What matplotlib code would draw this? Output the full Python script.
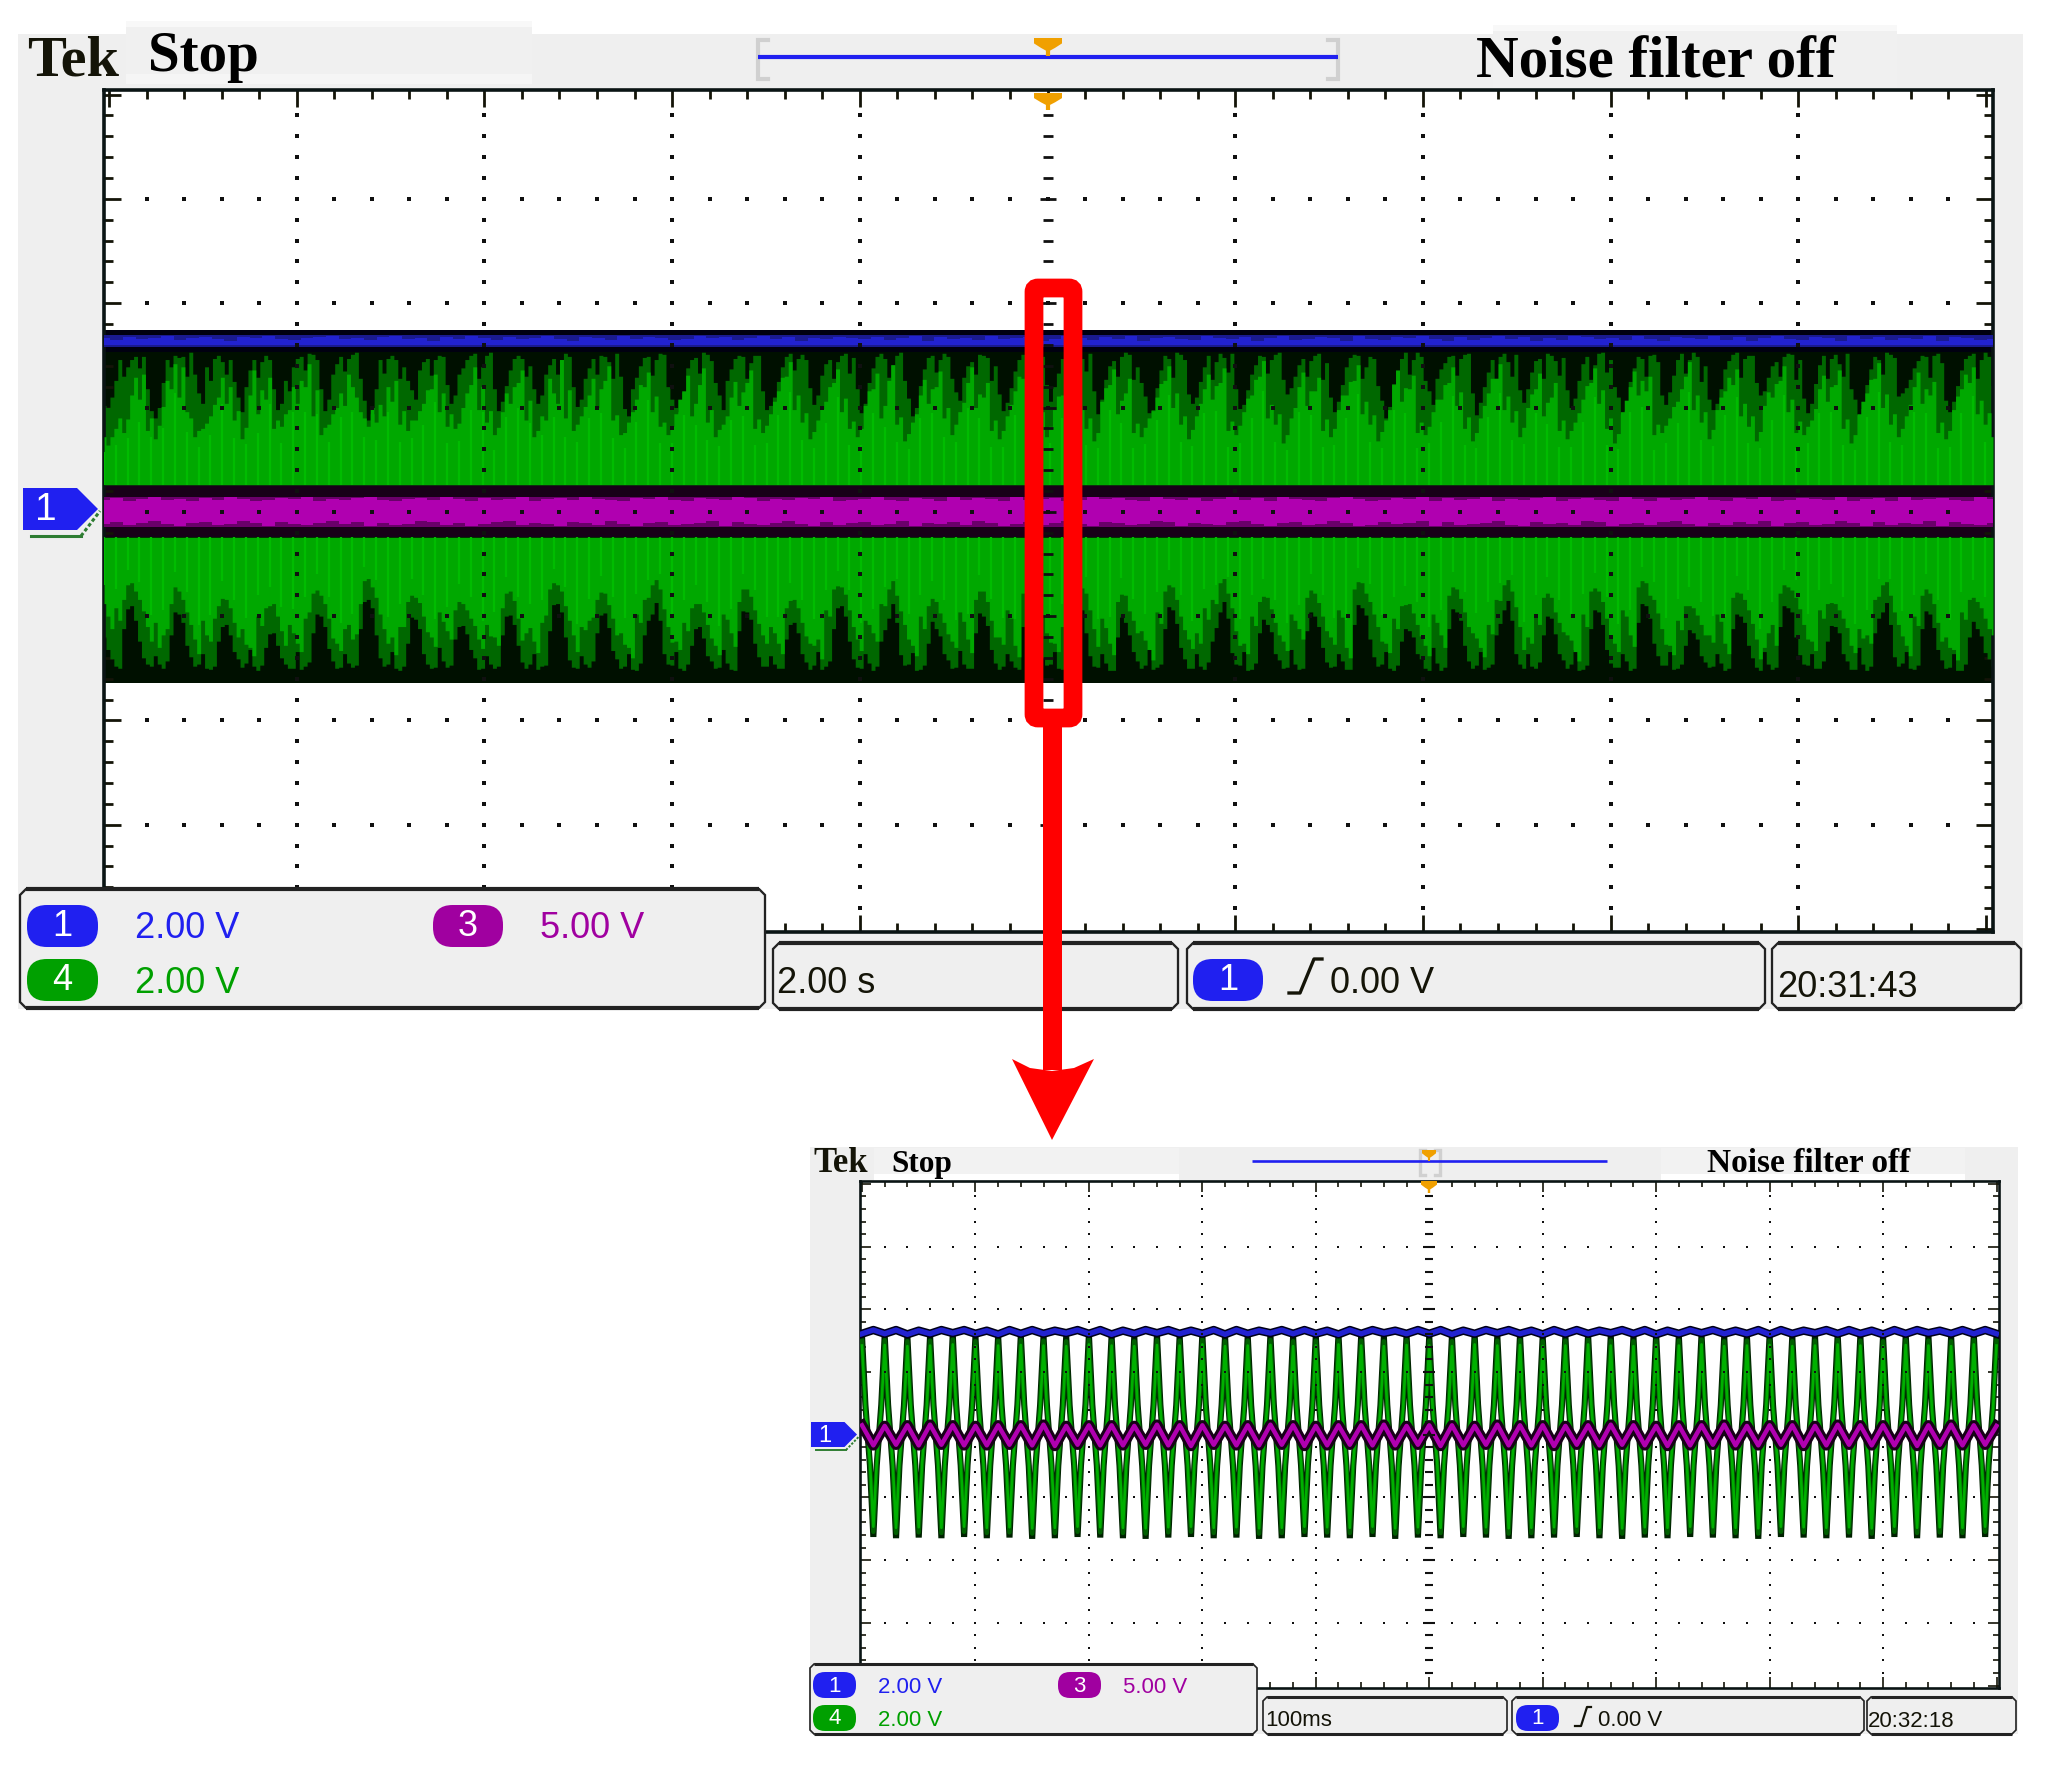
import numpy as np
import matplotlib
matplotlib.use('Agg')
import matplotlib.pyplot as plt
from matplotlib.patches import Polygon, Rectangle, FancyBboxPatch

# --- values ---
# upper scope (2.00 s/div): green envelope, hundredths of a division
# *_a and *_b are alternate display columns
top_dark_a = [102,110,146,139,149,149,97,100,146,150,149,153,114,139,147,144,146,110,120,146,144,146,98,126,139,149,152,146,97,132,
149,147,153,107,94,146,147,146,139,117,136,147,146,149,104,132,146,152,139,153,97,121,147,147,140,104,132,147,146,149,
101,128,147,150,144,152,99,118,140,149,146,151,108,96,138,148,153,145,112,126,147,149,143,150,98,110,139,152,147,146,
103,131,146,144,152,148,95,124,149,147,141,153,109,100,137,150,146,149,115,129,144,151,148,140,97,119,146,153,145,149,
106,133,150,143,147,152,94,127,145,149,151,139,111,98,136,147,153,146,104,125,150,144,148,152,99,117,141,149,146,153,
113,130,147,145,152,143,96,122,148,150,139,147,107,101,135,153,146,149,116,128,143,150,147,152,93,120,146,149,144,151,
105,134,147,152,145,148,100,126,149,141,153,146,110,97,138,147,150,144,103,131,152,146,149,140,98,118,145,153,147,150,
112,129,144,149,151,146,95,123,150,147,142,152,108,99,137,146,153,148,114,127,145,149,150,143,96,121,147,152,146,149]
top_dark_b = [100,126,130,146,138,118,90,124,139,148,130,132,104,126,150,132,125,96,136,129,150,118,104,116,147,136,151,118,108,142,
135,151,128,88,118,133,150,128,126,108,144,131,150,122,112,138,150,128,150,118,106,136,150,130,118,112,141,132,152,120,
108,138,132,149,128,130,92,129,148,131,152,120,100,115,146,133,151,124,98,137,150,128,150,116,102,125,149,136,151,119,
112,142,128,150,133,118,104,138,152,129,150,126,92,121,148,134,152,128,107,140,132,150,126,113,105,135,151,130,152,122,
120,147,131,152,135,116,108,140,130,153,127,124,95,119,150,129,151,113,110,139,127,152,134,118,103,132,150,133,151,127,
119,141,130,150,127,110,106,139,151,128,149,121,90,123,147,132,153,126,103,137,149,131,151,114,105,134,128,152,130,117,
118,145,128,150,131,117,109,142,127,152,134,120,94,125,149,130,151,112,115,146,133,153,125,108,104,137,151,129,150,124,
116,140,130,152,127,109,104,141,128,151,130,118,93,122,149,132,151,111,119,138,150,129,152,107,106,136,150,128,153,121]
top_bright_a = [72,72,90,89,129,132,90,83,126,142,139,90,78,85,103,129,120,97,81,136,117,129,88,94,120,126,142,117,81,94,
114,132,110,90,100,103,120,126,97,88,97,117,132,114,94,85,114,139,120,97,81,114,120,136,107,78,88,114,146,117,
84,101,128,118,140,93,76,96,122,134,111,86,82,108,131,104,138,98,79,92,125,115,136,89,83,106,129,144,112,95,
77,99,120,137,109,87,80,116,133,102,141,91,75,94,127,118,135,100,84,105,139,113,124,88,78,103,130,143,110,96,
82,111,126,135,98,90,76,119,137,107,128,85,81,97,123,140,114,92,79,104,132,121,138,87,83,109,127,145,103,94,
74,100,134,116,129,89,80,112,125,141,106,93,77,98,136,119,131,86,82,108,122,139,115,91,76,102,128,142,111,97,
81,113,133,105,124,88,78,95,121,138,117,90,75,107,135,126,130,84,83,101,118,144,112,96,79,110,129,137,104,92,
77,115,123,140,108,87,82,99,131,120,136,89,74,106,127,143,113,94,80,103,134,118,125,86,78,111,132,139,107,95]
top_bright_b = [64,80,76,112,108,78,70,101,118,110,96,72,80,92,110,104,88,70,112,94,108,80,82,98,104,120,92,74,84,100,
102,120,96,82,86,92,106,84,78,88,104,118,96,82,80,100,122,98,86,74,96,104,124,88,72,92,128,104,90,78,
92,112,100,126,88,74,86,108,120,96,82,74,94,116,92,122,86,72,84,110,102,124,80,76,94,116,130,98,86,70,
88,106,124,96,80,72,102,118,90,126,84,68,86,112,104,120,90,74,96,124,100,110,78,70,92,116,128,98,88,72,
98,112,120,88,80,68,106,122,94,114,76,72,90,110,126,100,84,70,92,118,108,124,78,74,96,112,130,90,84,66,
90,120,102,116,78,72,98,112,126,94,84,68,88,122,106,118,76,74,96,108,124,102,80,68,90,114,128,98,86,72,
100,118,92,110,78,70,86,108,124,104,80,66,96,120,112,116,74,76,90,106,130,98,86,70,98,116,122,92,82,68,
102,110,126,96,76,74,88,118,106,122,80,66,94,114,128,100,84,72,92,120,104,112,76,70,98,118,124,94,84,72]
low_dark_a = [120,141,150,93,104,140,148,146,143,96,106,139,146,150,148,110,118,141,145,148,147,117,128,146,150,151,144,98,110,143,
149,145,147,86,92,140,146,150,148,101,112,146,149,143,147,110,117,140,150,146,148,100,108,144,146,151,147,89,96,142,
150,146,143,99,111,141,148,151,145,104,87,136,147,150,146,112,121,143,149,145,152,95,103,139,148,146,150,108,116,144,
147,151,143,92,100,141,150,145,148,113,88,137,146,152,147,105,119,142,149,146,150,97,109,145,148,143,151,90,102,140,
146,150,147,114,94,138,149,145,152,101,118,143,147,151,146,91,107,141,150,148,144,111,86,135,147,152,145,103,115,142,
149,146,150,96,110,144,148,143,151,89,99,139,146,150,147,112,120,141,152,145,149,93,104,143,147,151,146,107,85,136,
150,148,144,100,117,142,146,152,147,94,108,145,149,143,150,88,102,138,147,151,146,113,122,144,148,145,150,98,106,140,
152,146,149,90,96,137,147,150,143,109,116,143,151,146,148,102,87,139,145,150,147,95,111,142,149,152,146,105,119,141]
low_dark_b = [132,148,112,90,124,146,138,150,118,98,128,148,136,151,124,108,134,149,132,152,130,116,140,150,134,148,116,100,131,150,
136,149,112,84,118,148,134,152,126,103,136,150,130,149,122,109,132,151,138,150,118,99,128,150,136,148,114,88,120,149,
138,149,116,97,133,150,136,152,118,98,104,146,134,152,128,110,138,150,132,151,114,96,126,148,138,150,122,106,136,151,
134,148,112,90,124,149,136,152,124,102,106,147,135,151,126,112,136,150,133,150,116,100,132,151,136,149,110,92,126,147,
134,151,128,100,116,148,136,152,120,106,134,150,132,149,112,94,130,150,136,151,124,96,102,146,134,151,116,108,136,150,
132,151,114,100,130,149,136,151,108,92,122,148,134,152,124,114,136,150,130,152,112,96,128,150,134,149,118,94,104,146,
136,150,118,102,136,150,132,151,112,96,132,149,136,152,106,90,126,147,134,150,128,116,138,149,136,152,112,100,128,149,
134,151,110,92,120,146,136,150,124,110,136,151,130,152,116,96,108,148,134,151,112,98,132,150,136,152,120,112,135,148]
low_bright_a = [88,112,104,70,76,95,124,130,112,72,84,108,136,118,102,83,92,120,127,138,109,90,100,128,116,134,96,75,88,121,
133,108,117,66,72,98,126,137,110,80,87,115,129,105,122,86,94,109,131,119,128,78,85,123,111,135,99,68,76,104,
134,113,101,77,89,118,127,140,106,82,65,93,125,132,114,88,96,121,137,103,129,74,81,107,126,116,136,85,92,119,
128,141,100,71,79,110,133,108,124,90,66,95,122,138,112,83,97,117,130,105,135,76,86,120,127,102,139,69,80,99,
125,134,115,91,73,94,129,111,137,79,95,116,123,142,107,70,84,113,131,126,103,88,64,92,128,136,109,81,93,118,
133,104,122,75,87,114,127,101,140,67,78,98,124,135,112,89,97,119,138,106,130,72,83,110,121,139,117,85,65,91,
132,126,108,78,96,115,123,143,110,73,86,120,134,100,129,66,80,97,127,137,113,90,99,118,125,105,136,77,84,107,
141,116,128,70,75,93,122,133,102,87,94,111,135,121,126,81,67,96,119,138,109,74,88,124,130,142,103,82,92,112]
low_bright_b = [100,92,84,68,84,110,106,118,88,76,96,122,104,124,90,84,106,112,130,100,92,88,114,108,126,102,78,80,102,126,
112,122,88,64,82,112,120,110,86,82,100,120,96,114,94,88,102,122,108,120,92,76,102,116,124,106,74,70,90,118,
110,104,84,78,102,116,130,98,84,70,74,110,124,106,92,88,108,128,98,116,86,74,94,118,110,126,92,84,106,126,
122,94,74,72,94,122,104,116,88,74,80,108,128,100,90,86,106,124,96,122,84,76,104,120,94,128,78,70,86,116,
126,110,92,76,78,112,102,126,86,80,104,114,132,96,76,72,100,122,116,92,84,68,78,114,126,100,86,82,106,124,
98,112,82,78,100,120,94,130,74,68,86,110,126,102,90,88,108,128,98,118,80,74,96,116,130,108,84,70,76,110,
120,100,82,82,106,118,134,98,76,76,102,126,94,118,72,68,84,112,128,104,90,92,108,118,98,126,82,78,94,122,
130,108,78,72,82,108,124,94,88,88,102,128,112,118,84,70,80,108,128,100,80,78,106,120,132,96,84,86,102,118]
top_blue_edge = [169,167,170,168,169,171,167,169,170,168,166,170,169,171,168,167,169,170,171,168,169,167,170,171,168,169,166,170,168,171,
169,167,170,168,169,171,168,166,170,169,167,171,168,170,169,167,168,171,169,170,167,169,171,168,170,166,169,168,170,169,
168,170,167,169,171,166,170,168,169,167,171,168,169,170,166,168,171,169,167,170,168,171,166,169,170,168,167,171,169,168,
170,166,169,171,167,168,170,169,166,171,168,167,170,169,171,168,166,170,167,169,171,168,170,166,169,167,171,170,168,169,
167,171,168,166,170,169,168,171,167,170,166,169,171,168,167,170,169,166,171,168,170,167,169,168,171,166,170,169,167,168]
top_purple_hi = [11,13,10,12,14,11,12,10,13,11,14,12,10,11,13,12,14,10,12,11,13,14,11,10,12,13,11,14,12,10,
13,11,12,14,10,12,13,11,14,12,11,10,13,12,14,11,10,13,12,11,14,13,10,12,11,13,12,14,10,11,
12,14,11,10,13,12,10,14,11,13,12,10,14,11,12,13,10,11,14,12,13,11,10,14,12,11,13,10,12,14,
11,13,10,14,12,11,10,13,14,12,10,11,13,12,14,10,13,11,12,14,10,12,11,13,14,10,12,13,11,10,
14,12,10,13,11,12,14,11,10,13,12,14,10,11,13,12,11,14,10,12,13,10,14,11,12,13,11,10,14,12]
top_purple_lo = [-12,-10,-13,-11,-9,-12,-14,-11,-10,-13,-12,-9,-11,-14,-10,-12,-13,-11,-9,-12,-10,-14,-11,-13,-12,-9,-10,-13,-11,-14,
-12,-10,-9,-13,-11,-12,-14,-10,-11,-13,-9,-12,-14,-11,-10,-13,-12,-11,-9,-14,-10,-12,-13,-11,-9,-12,-14,-10,-13,-11,
-10,-13,-12,-9,-14,-11,-12,-10,-13,-9,-11,-14,-12,-10,-13,-11,-9,-12,-14,-10,-11,-13,-12,-9,-10,-14,-11,-12,-13,-10,
-9,-12,-14,-11,-10,-13,-12,-9,-11,-14,-13,-10,-12,-11,-9,-14,-10,-13,-12,-11,-9,-13,-14,-10,-12,-11,-13,-9,-10,-14,
-12,-11,-13,-10,-9,-12,-14,-11,-13,-10,-12,-9,-14,-11,-10,-13,-12,-9,-11,-14,-10,-13,-11,-12,-9,-14,-10,-12,-13,-11]

# lower scope (100 ms/div): one up peak / down peak per cycle, divisions
low_up = [1.58,1.59,1.57,1.58,1.60,1.57,1.58,1.59,1.58,1.57,1.60,1.58,1.57,1.59,1.58,1.60,1.57,1.58,1.59,1.57,1.58,1.60,1.58,1.57,1.59,
1.58,1.57,1.60,1.58,1.59,1.57,1.58,1.60,1.58,1.57,1.59,1.58,1.60,1.57,1.58,1.59,1.57,1.58,1.60,1.58,1.57,1.59,1.58,1.57,1.60,1.58]
low_down = [-1.63,-1.65,-1.64,-1.65,-1.63,-1.65,-1.64,-1.66,-1.65,-1.63,-1.64,-1.65,-1.66,-1.64,-1.63,-1.65,-1.64,-1.66,-1.65,-1.63,-1.64,-1.65,-1.63,-1.66,-1.64,
-1.65,-1.63,-1.64,-1.66,-1.65,-1.64,-1.63,-1.65,-1.66,-1.64,-1.65,-1.63,-1.64,-1.65,-1.66,-1.63,-1.64,-1.65,-1.64,-1.66,-1.63,-1.65,-1.64,-1.65,-1.63]
purple_up = [0.15,0.14,0.15,0.16,0.15,0.14,0.15,0.15,0.16,0.14,0.15,0.15,0.14,0.16,0.15,0.15,0.14,0.15,0.16,0.15,0.14,0.15,0.15,0.16,0.14,
0.15,0.15,0.14,0.16,0.15,0.15,0.14,0.15,0.16,0.15,0.14,0.15,0.15,0.16,0.14,0.15,0.15,0.14,0.16,0.15,0.15,0.14,0.15,0.16,0.15,0.14]
purple_down = [-0.17,-0.16,-0.17,-0.16,-0.17,-0.17,-0.16,-0.17,-0.18,-0.16,-0.17,-0.17,-0.16,-0.17,-0.18,-0.16,-0.17,-0.17,-0.16,-0.18,-0.17,-0.16,-0.17,-0.17,-0.16,
-0.18,-0.17,-0.16,-0.17,-0.17,-0.18,-0.16,-0.17,-0.16,-0.17,-0.18,-0.17,-0.16,-0.17,-0.17,-0.16,-0.18,-0.17,-0.16,-0.17,-0.17,-0.18,-0.16,-0.17,-0.16]
blue_line = [1.61,1.67,1.61,1.67,1.60,1.66,1.61,1.67,1.62,1.67,1.61,1.66,1.60,1.67,1.61,1.67,1.61,1.66,1.62,1.67,1.61,1.67,1.60,1.66,1.61,
1.67,1.62,1.67,1.61,1.66,1.61,1.67,1.60,1.67,1.61,1.66,1.62,1.67,1.61,1.67,1.61,1.66,1.60,1.67,1.61,1.67,1.62,1.66,1.61,1.67,
1.61,1.67,1.60,1.66,1.61,1.67,1.62,1.67,1.61,1.66,1.60,1.67,1.61,1.67,1.61,1.66,1.62,1.67,1.61,1.67,1.60,1.66,1.61,1.67,1.62,
1.67,1.61,1.66,1.61,1.67,1.60,1.67,1.61,1.66,1.62,1.67,1.61,1.67,1.61,1.66,1.60,1.67,1.61,1.67,1.62,1.66,1.61,1.67,1.61,1.67,1.61]
# the green trace keeps about this share of a peak where the spike widens out
knee_share = 0.3

ch1_label = '2.00 V'
ch3_label = '5.00 V'
ch4_label = '2.00 V'
trig_label = '0.00 V'

BLUE = '#2020F0'
PURPLE = '#A000A0'
GREEN = '#00A000'
PANEL = '#EFEFEF'
INK = '#141408'
SANS = 'Liberation Sans'
SERIF = 'Liberation Serif'

W, H = 2052, 1766
fig = plt.figure(figsize=(W / 100, H / 100), dpi=100, facecolor='white')


def px_axes(left, top, right, bottom, z):
    ax = fig.add_axes([left / W, 1 - bottom / H, (right - left) / W, (bottom - top) / H], zorder=z)
    return ax


def scope_axes(left, top, right, bottom, x0, xdiv, y0, ydiv, maj, mnr, tw, spine):
    ax = px_axes(left, top, right, bottom, 2)
    ax.set_xlim((left - x0) / xdiv, (right - x0) / xdiv)
    ax.set_ylim((y0 - bottom) / ydiv, (y0 - top) / ydiv)
    ax.set_xticks(np.arange(0, 11))
    ax.set_yticks(np.arange(-4, 5))
    ax.set_xticks(np.arange(0, 10.01, 0.2), minor=True)
    ax.set_yticks(np.arange(-4, 4.01, 0.2), minor=True)
    ax.tick_params(which='major', direction='in', top=True, bottom=True, left=True, right=True,
                   length=maj, width=tw, color=INK, labelbottom=False, labelleft=False)
    ax.tick_params(which='minor', direction='in', top=True, bottom=True, left=True, right=True,
                   length=mnr, width=tw, color=INK)
    for s in ax.spines.values():
        s.set_linewidth(spine)
        s.set_color('#0A1414')
    return ax


def draw_grid(ax, s, dash_major, dash_minor, mew):
    minor = np.round(np.arange(0, 10.01, 0.2), 1)
    minor_y = np.round(np.arange(-4, 4.01, 0.2), 1)
    for row in range(-3, 4):
        xs = minor[(minor > 0) & (minor < 10)]
        ax.scatter(xs, np.full(len(xs), row), marker='s', s=s, color='#101010', lw=0, zorder=8)
    for col in range(1, 10):
        if col == 5:
            continue
        ys = minor_y[(minor_y > -4) & (minor_y < 4)]
        ax.scatter(np.full(len(ys), col), ys, marker='s', s=s, color='#101010', lw=0, zorder=8)
    ys = minor_y[(minor_y > -4) & (minor_y < 4)]
    is_major = np.isclose(ys, np.round(ys))
    ax.plot(np.full(is_major.sum(), 5), ys[is_major], ls='none', marker='_', ms=dash_major, mew=mew, color='#101010', zorder=8)
    ax.plot(np.full((~is_major).sum(), 5), ys[~is_major], ls='none', marker='_', ms=dash_minor, mew=mew, color='#101010', zorder=8)


def text(x, y, s, color=INK, size=26, family=SANS, ha='left', weight='normal'):
    fg.text(x, y, s, color=color, fontsize=size, family=family, ha=ha, va='baseline',
            fontweight=weight, zorder=20)


def panel(x0, y0, x1, y1, c=6, lw=3.0):
    pts = [(x0 + c, y0), (x1 - c, y0), (x1, y0 + c), (x1, y1 - c), (x1 - c, y1), (x0 + c, y1), (x0, y1 - c), (x0, y0 + c)]
    fg.add_patch(Polygon(pts, closed=True, fc=PANEL, ec='#222222', lw=lw * 0.55, zorder=5))
    fg.plot([x0 + c, x1 - c], [y0, y0], color='#222222', lw=lw, solid_capstyle='butt', zorder=6)
    fg.plot([x0 + c, x1 - c], [y1, y1], color='#222222', lw=lw, solid_capstyle='butt', zorder=6)


def pill(x0, y0, x1, y1, color, num, size):
    r = (x1 - x0) * 0.28
    fg.add_patch(FancyBboxPatch((x0 + r, y0 + r), x1 - x0 - 2 * r, y1 - y0 - 2 * r,
                                boxstyle='round,pad=%f,rounding_size=%f' % (r, r), fc=color, ec='none', zorder=10))
    fg.text((x0 + x1) / 2, (y0 + y1) / 2 + 1, num, color='white', fontsize=size, family=SANS,
            ha='center', va='center', zorder=20)


def marker(cx, y0, y1, half):
    h = y1 - y0
    pts = [(cx - half, y0), (cx + half, y0), (cx + half, y0 + h * 0.3), (cx + half * 0.5, y0 + h * 0.55),
           (cx + half * 0.15, y0 + h * 0.7), (cx + half * 0.15, y1), (cx - half * 0.15, y1),
           (cx - half * 0.15, y0 + h * 0.7), (cx - half * 0.5, y0 + h * 0.55), (cx - half, y0 + h * 0.3)]
    fg.add_patch(Polygon(pts, closed=True, fc='#F0A000', ec='none', zorder=12))


def bracket(ax_, x0, x1, y0, y1, arm, lw):
    for xa, xb in ((x0, x0 + arm), (x1, x1 - arm)):
        ax_.plot([xb, xa, xa, xb], [y0, y0, y1, y1], color='#D0D0D0', lw=lw, zorder=3, solid_joinstyle='miter')


def pointer(x0, y0, x1, y1, size, ux0, ux1, uy, lw):
    tip = x1
    shoulder = x1 - (y1 - y0) * 0.5
    pts = [(x0, y0), (shoulder, y0), (tip, (y0 + y1) / 2), (shoulder, y1), (x0, y1)]
    fg.add_patch(Polygon(pts, closed=True, fc=BLUE, ec='none', zorder=10))
    fg.text(x0 + (shoulder - x0) * 0.42, (y0 + y1) / 2 + 1, '1', color='white', fontsize=size, family=SANS,
            ha='center', va='center', zorder=20)
    fg.plot([ux0, ux1], [uy, uy], color='#2E7D32', lw=lw, zorder=10)
    fg.plot([ux1, tip + 2], [uy, (y0 + y1) / 2 + 2], color='#2E7D32', lw=lw, ls=(0, (1.2, 0.8)), zorder=10)


def columns(a, b):
    return np.column_stack([a, b]).ravel() / 100


# background layer
bg = px_axes(0, 0, W, H, 1)
bg.set_xlim(0, W)
bg.set_ylim(H, 0)
bg.axis('off')
bg.add_patch(Rectangle((18, 34), 2005, 975, fc=PANEL, ec='none'))
bg.add_patch(Rectangle((810, 1147), 1208, 587, fc=PANEL, ec='none'))
# patched text strips on the header
bg.add_patch(Rectangle((126, 21), 406, 63, fc='#F0F0F0', ec='none'))
bg.add_patch(Rectangle((126, 21), 406, 6, fc='#F8F8F8', ec='none'))
bg.add_patch(Rectangle((126, 74), 406, 10, fc='#F5F5F5', ec='none'))
bg.add_patch(Rectangle((1493, 25), 404, 63, fc='#F0F0F0', ec='none'))
bg.add_patch(Rectangle((1493, 25), 404, 6, fc='#F8F8F8', ec='none'))
bg.add_patch(Rectangle((874, 1148), 305, 33, fc='#F2F2F2', ec='none'))
bg.add_patch(Rectangle((874, 1174), 305, 7, fc='white', ec='none'))
bg.add_patch(Rectangle((1661, 1148), 304, 33, fc='#F2F2F2', ec='none'))
bg.add_patch(Rectangle((1661, 1174), 304, 7, fc='white', ec='none'))

# foreground layer
fg = px_axes(0, 0, W, H, 3)
fg.set_xlim(0, W)
fg.set_ylim(H, 0)
fg.axis('off')
fg.patch.set_alpha(0)

# ---------- upper scope ----------
ax1 = scope_axes(104, 90, 1993, 932, 109, 187.7, 511.8, 104.3, 12, 6.5, 2.0, 2.6)
xmin, xmax = ax1.get_xlim()

ax1.axhspan(1.53, 1.745, color='#000010', lw=0, zorder=1)
ax1.axhspan(0.26, 1.53, color='#001000', lw=0, zorder=1)
ax1.axhspan(-0.245, 0.26, color='#180018', lw=0, zorder=1)
ax1.axhspan(-1.645, -0.245, color='#001000', lw=0, zorder=1)

up_dark = columns(top_dark_a, top_dark_b)
up_bright = columns(top_bright_a, top_bright_b)
dn_dark = columns(low_dark_a, low_dark_b)
dn_bright = columns(low_bright_a, low_bright_b)
xc = np.linspace(xmin, xmax, len(up_dark))

ax1.fill_between(xc, 0.26, up_dark, step='mid', color='#006800', lw=0, zorder=2)
ax1.fill_between(xc, 0.26, up_bright, step='mid', color='#00A800', lw=0, zorder=3)
ax1.vlines(xc[::3], 0.26, up_bright[::3] * 0.8, color='#00BC00', lw=1.6, zorder=4)
ax1.fill_between(xc, -0.245, -dn_dark, step='mid', color='#006800', lw=0, zorder=2)
ax1.fill_between(xc, -0.245, -dn_bright, step='mid', color='#00A800', lw=0, zorder=3)
ax1.vlines(xc[::3], -0.245, -dn_bright[::3] * 0.8, color='#00BC00', lw=1.6, zorder=4)

xe = np.linspace(xmin, xmax, len(top_blue_edge))
ax1.axhspan(1.58, 1.695, color='#1A1A90', lw=0, zorder=5)
ax1.fill_between(xe, 1.60, np.array(top_blue_edge) / 100 - 0.02, step='mid', color='#2222D0', lw=0, zorder=6)
ax1.axhspan(-0.146, 0.142, color='#6A006A', lw=0, zorder=5)
ax1.fill_between(xe, np.array(top_purple_lo) / 100, np.array(top_purple_hi) / 100, step='mid', color='#B000B0', lw=0, zorder=6)

draw_grid(ax1, 6, 11, 7.5, 2.0)

# ---------- lower scope ----------
ax2 = scope_axes(860, 1181, 1999, 1688, 862, 113.45, 1434.7, 62.7, 8, 4.6, 1.2, 1.9)

n = len(low_up)
x_up = np.arange(n) * 0.2
x_down = np.arange(len(low_down)) * 0.2 + 0.1
up = np.array(low_up)
down = np.array(low_down)

# green spikes: peak, knee, knee, opposite peak ...
x_g = []
y_g = []
for i in range(len(down)):
    x_g += [x_up[i], x_up[i] + 0.03, x_down[i] - 0.03, x_down[i], x_down[i] + 0.03, x_up[i + 1] - 0.03]
    y_g += [up[i], up[i] * knee_share, down[i] * knee_share, down[i], down[i] * knee_share, up[i + 1] * knee_share]
x_g.append(x_up[-1])
y_g.append(up[-1])
x_g = np.array(x_g)
y_g = np.array(y_g)

x_p = np.empty(n + len(down))
x_p[0::2] = x_up
x_p[1::2] = x_down
y_p = np.empty(len(x_p))
y_p[0::2] = purple_up
y_p[1::2] = purple_down
x_b = np.linspace(0, 10, len(blue_line))

ax2.plot(x_g, y_g, color='#002200', lw=4.4, solid_joinstyle='miter', zorder=3)
ax2.plot(x_g, y_g * 0.95, color='#006000', lw=3.2, solid_joinstyle='round', zorder=4)
ax2.plot(x_g, y_g * 0.9, color='#00B000', lw=1.9, solid_joinstyle='round', zorder=5)
ax2.plot(x_b, blue_line, color='#000018', lw=6.0, zorder=6)
ax2.plot(x_b, blue_line, color='#2222D0', lw=3.8, zorder=7)
ax2.plot(x_p, y_p, color='#180018', lw=7.6, zorder=6)
ax2.plot(x_p, y_p, color='#B000B0', lw=3.2, zorder=7)

draw_grid(ax2, 3.5, 8, 5.5, 1.5)

# ---------- upper scope furniture ----------
text(27, 75, 'Tek', size=42, family=SERIF, weight='bold')
text(148, 71, 'Stop', size=41, family=SERIF, color='black', weight='bold')
text(1476, 78, 'Noise filter off', size=42.6, family=SERIF, color='black', weight='bold')
bracket(bg, 758, 1338, 40, 79, 10, 3.0)
fg.plot([758, 1338], [57, 57], color=BLUE, lw=3.0, solid_capstyle='butt', zorder=5)
marker(1048, 38, 56, 14)
marker(1048, 93, 110, 14)
pointer(23, 488, 98, 530, 28, 31, 81, 536, 2.2)

panel(20, 889, 765, 1008)
panel(773, 943, 1178, 1009)
panel(1187, 943, 1765, 1009)
panel(1772, 943, 2021, 1009)
pill(27, 905, 98, 947, BLUE, '1', 26)
pill(433, 905, 503, 947, PURPLE, '3', 26)
pill(27, 959, 98, 1001, GREEN, '4', 26)
pill(1193, 959, 1263, 1001, BLUE, '1', 26)
text(135, 938, ch1_label, color=BLUE)
text(540, 938, ch3_label, color=PURPLE)
text(135, 993, ch4_label, color=GREEN)
text(777, 993, '2.00 s')
text(1330, 993, trig_label)
text(1777, 997, '20:31:43')
fg.plot([1289, 1300, 1314, 1322], [993, 993, 959, 959], color=INK, lw=2.4, zorder=12)

# ---------- lower scope furniture ----------
text(813, 1172, 'Tek', size=25, family=SERIF, weight='bold')
text(891, 1172, 'Stop', size=22.5, family=SERIF, color='black', weight='bold')
text(1707, 1172, 'Noise filter off', size=24, family=SERIF, color='black', weight='bold')
bracket(bg, 1420, 1440, 1150, 1175, 5, 2.4)
fg.plot([1252, 1607], [1161, 1161], color=BLUE, lw=1.9, solid_capstyle='butt', zorder=5)
marker(1429, 1150, 1161, 7)
marker(1429, 1181, 1193, 8)
pointer(811, 1422, 857, 1447, 17, 816, 846, 1450, 1.4)

panel(810, 1664, 1257, 1734, c=4, lw=2.2)
panel(1263, 1697, 1507, 1734, c=4, lw=2.2)
panel(1512, 1697, 1864, 1734, c=4, lw=2.2)
panel(1867, 1697, 2016, 1734, c=4, lw=2.2)
pill(813, 1672, 856, 1698, BLUE, '1', 16)
pill(1058, 1672, 1101, 1698, PURPLE, '3', 16)
pill(813, 1705, 856, 1731, GREEN, '4', 16)
pill(1516, 1705, 1559, 1731, BLUE, '1', 16)
text(878, 1693, ch1_label, color=BLUE, size=16)
text(1123, 1693, ch3_label, color=PURPLE, size=16)
text(878, 1726, ch4_label, color=GREEN, size=16)
text(1265, 1726, '100ms', size=16)
text(1598, 1726, trig_label, size=16)
text(1868, 1727, '20:32:18', size=16)
fg.plot([1575, 1581, 1587, 1591], [1726, 1726, 1707, 1707], color=INK, lw=1.6, zorder=12)

# ---------- red zoom marker ----------
fg.add_patch(FancyBboxPatch((1034, 288), 39, 430, boxstyle='round,pad=0,rounding_size=4',
                            fc='none', ec='#FF0000', lw=13.5, zorder=15))
fg.add_patch(Rectangle((1043, 725), 19, 345, fc='#FF0000', ec='none', zorder=15))
fg.add_patch(Polygon([(1012, 1059), (1030, 1068), (1052, 1071), (1074, 1068), (1094, 1059), (1052, 1140)],
                     closed=True, fc='#FF0000', ec='none', zorder=15))

fig.savefig('out.png', dpi=100)
